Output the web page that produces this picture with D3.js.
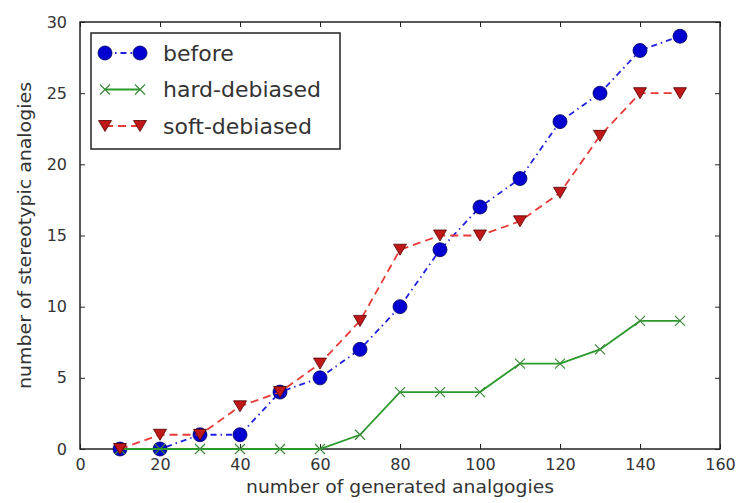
<!DOCTYPE html>
<html>
<head>
<meta charset="utf-8">
<script src="https://cdn.jsdelivr.net/npm/d3@7"></script>
<style>
  body { margin: 0; background: #fff; }
  text { font-family: "DejaVu Sans", sans-serif; fill: #333; }
</style>
</head>
<body>
<div id="chart"></div>
<script>
const xValues = [10, 20, 30, 40, 50, 60, 70, 80, 90, 100, 110, 120, 130, 140, 150];
const beforeValues = [0, 0, 1, 1, 4, 5, 7, 10, 14, 17, 19, 23, 25, 28, 29];
const hardValues = [0, 0, 0, 0, 0, 0, 1, 4, 4, 4, 6, 6, 7, 9, 9];
const softValues = [0, 1, 1, 3, 4, 6, 9, 14, 15, 15, 16, 18, 22, 25, 25];
const seriesNames = ['before', 'hard-debiased', 'soft-debiased'];
const xTicks = [0, 20, 40, 60, 80, 100, 120, 140, 160];
const yTicks = [0, 5, 10, 15, 20, 25, 30];

const W = 738, H = 503;
const margin = { top: 22, right: 18, bottom: 54, left: 80 };
const width = W - margin.left - margin.right;
const height = H - margin.top - margin.bottom;

const svg = d3.select('#chart').append('svg')
    .attr('width', W)
    .attr('height', H);

const g = svg.append('g')
    .attr('transform', `translate(${margin.left},${margin.top})`);

const xScale = d3.scaleLinear().domain([0, 160]).range([0, width]);
const yScale = d3.scaleLinear().domain([0, 30]).range([height, 0]);

// Axes (matplotlib classic: ticks inside, on all four sides)
const axisStyle = sel => {
    sel.select('.domain').remove();
    sel.selectAll('line').attr('stroke', '#222');
    sel.selectAll('text').style('font-size', '16px').attr('fill', '#333');
};

g.append('g')
    .attr('transform', `translate(0,${height})`)
    .call(d3.axisBottom(xScale).tickValues(xTicks).tickSizeInner(-5).tickSizeOuter(0).tickPadding(10))
    .call(axisStyle);
g.append('g')
    .call(d3.axisTop(xScale).tickValues(xTicks).tickSizeInner(-5).tickSizeOuter(0).tickFormat(''))
    .call(axisStyle);
g.append('g')
    .call(d3.axisLeft(yScale).tickValues(yTicks).tickSizeInner(-5).tickSizeOuter(0).tickPadding(13))
    .call(axisStyle);
g.append('g')
    .attr('transform', `translate(${width},0)`)
    .call(d3.axisRight(yScale).tickValues(yTicks).tickSizeInner(-5).tickSizeOuter(0).tickFormat(''))
    .call(axisStyle);

g.append('rect')
    .attr('width', width)
    .attr('height', height)
    .attr('fill', 'none')
    .attr('stroke', '#222')
    .attr('stroke-width', 1.5);

// Axis labels
g.append('text')
    .attr('x', width / 2)
    .attr('y', height + 44)
    .attr('text-anchor', 'middle')
    .attr('textLength', 308)
    .attr('lengthAdjust', 'spacingAndGlyphs')
    .style('font-size', '18px')
    .text('number of generated analgogies');

g.append('text')
    .attr('transform', 'rotate(-90)')
    .attr('x', -height / 2)
    .attr('y', -49)
    .attr('text-anchor', 'middle')
    .attr('textLength', 307)
    .attr('lengthAdjust', 'spacingAndGlyphs')
    .style('font-size', '18px')
    .text('number of stereotypic analogies');

const series = [
    { name: seriesNames[0], values: beforeValues, color: '#2020e0', dash: '6,4,1.5,4', marker: 'circle' },
    { name: seriesNames[1], values: hardValues, color: '#2a9a2a', dash: null, marker: 'x' },
    { name: seriesNames[2], values: softValues, color: '#e83a36', dash: '8,5', marker: 'tri' }
];

const line = d3.line()
    .x(d => xScale(d.x))
    .y(d => yScale(d.y));

function drawMarker(sel, type) {
    if (type === 'circle') {
        sel.append('circle')
            .attr('r', 7)
            .attr('fill', '#0000d0')
            .attr('stroke', '#000060')
            .attr('stroke-width', 0.8);
    } else if (type === 'x') {
        sel.append('path')
            .attr('d', 'M-5,-5L5,5M-5,5L5,-5')
            .attr('stroke', '#3a8a3a')
            .attr('stroke-width', 1.2)
            .attr('fill', 'none');
    } else {
        sel.append('path')
            .attr('d', 'M-6.5,-5.5L6.5,-5.5L0,5.5Z')
            .attr('fill', '#c01818')
            .attr('stroke', '#500000')
            .attr('stroke-width', 0.8);
    }
}

series.forEach(s => {
    const pts = xValues.map((x, i) => ({ x, y: s.values[i] }));
    g.append('path')
        .datum(pts)
        .attr('fill', 'none')
        .attr('stroke', s.color)
        .attr('stroke-width', 1.8)
        .attr('stroke-dasharray', s.dash)
        .attr('d', line);

    g.selectAll(null)
        .data(pts)
        .enter()
        .append('g')
        .attr('transform', d => `translate(${xScale(d.x)},${yScale(d.y)})`)
        .each(function () { drawMarker(d3.select(this), s.marker); });
});

// Legend
const legend = g.append('g').attr('transform', 'translate(11,11)');
legend.append('rect')
    .attr('width', 249)
    .attr('height', 116)
    .attr('fill', '#fff')
    .attr('stroke', '#222')
    .attr('stroke-width', 1.5);

series.forEach((s, i) => {
    const row = legend.append('g').attr('transform', `translate(0,${20 + i * 36.5})`);
    row.append('line')
        .attr('x1', 14).attr('x2', 49)
        .attr('stroke', s.color)
        .attr('stroke-width', 1.8)
        .attr('stroke-dasharray', s.dash);
    [14, 49].forEach(mx => {
        const m = row.append('g').attr('transform', `translate(${mx},0)`);
        drawMarker(m, s.marker);
    });
    row.append('text')
        .attr('x', 72)
        .attr('dy', '0.35em')
        .style('font-size', '22px')
        .text(s.name);
});
</script>
</body>
</html>
